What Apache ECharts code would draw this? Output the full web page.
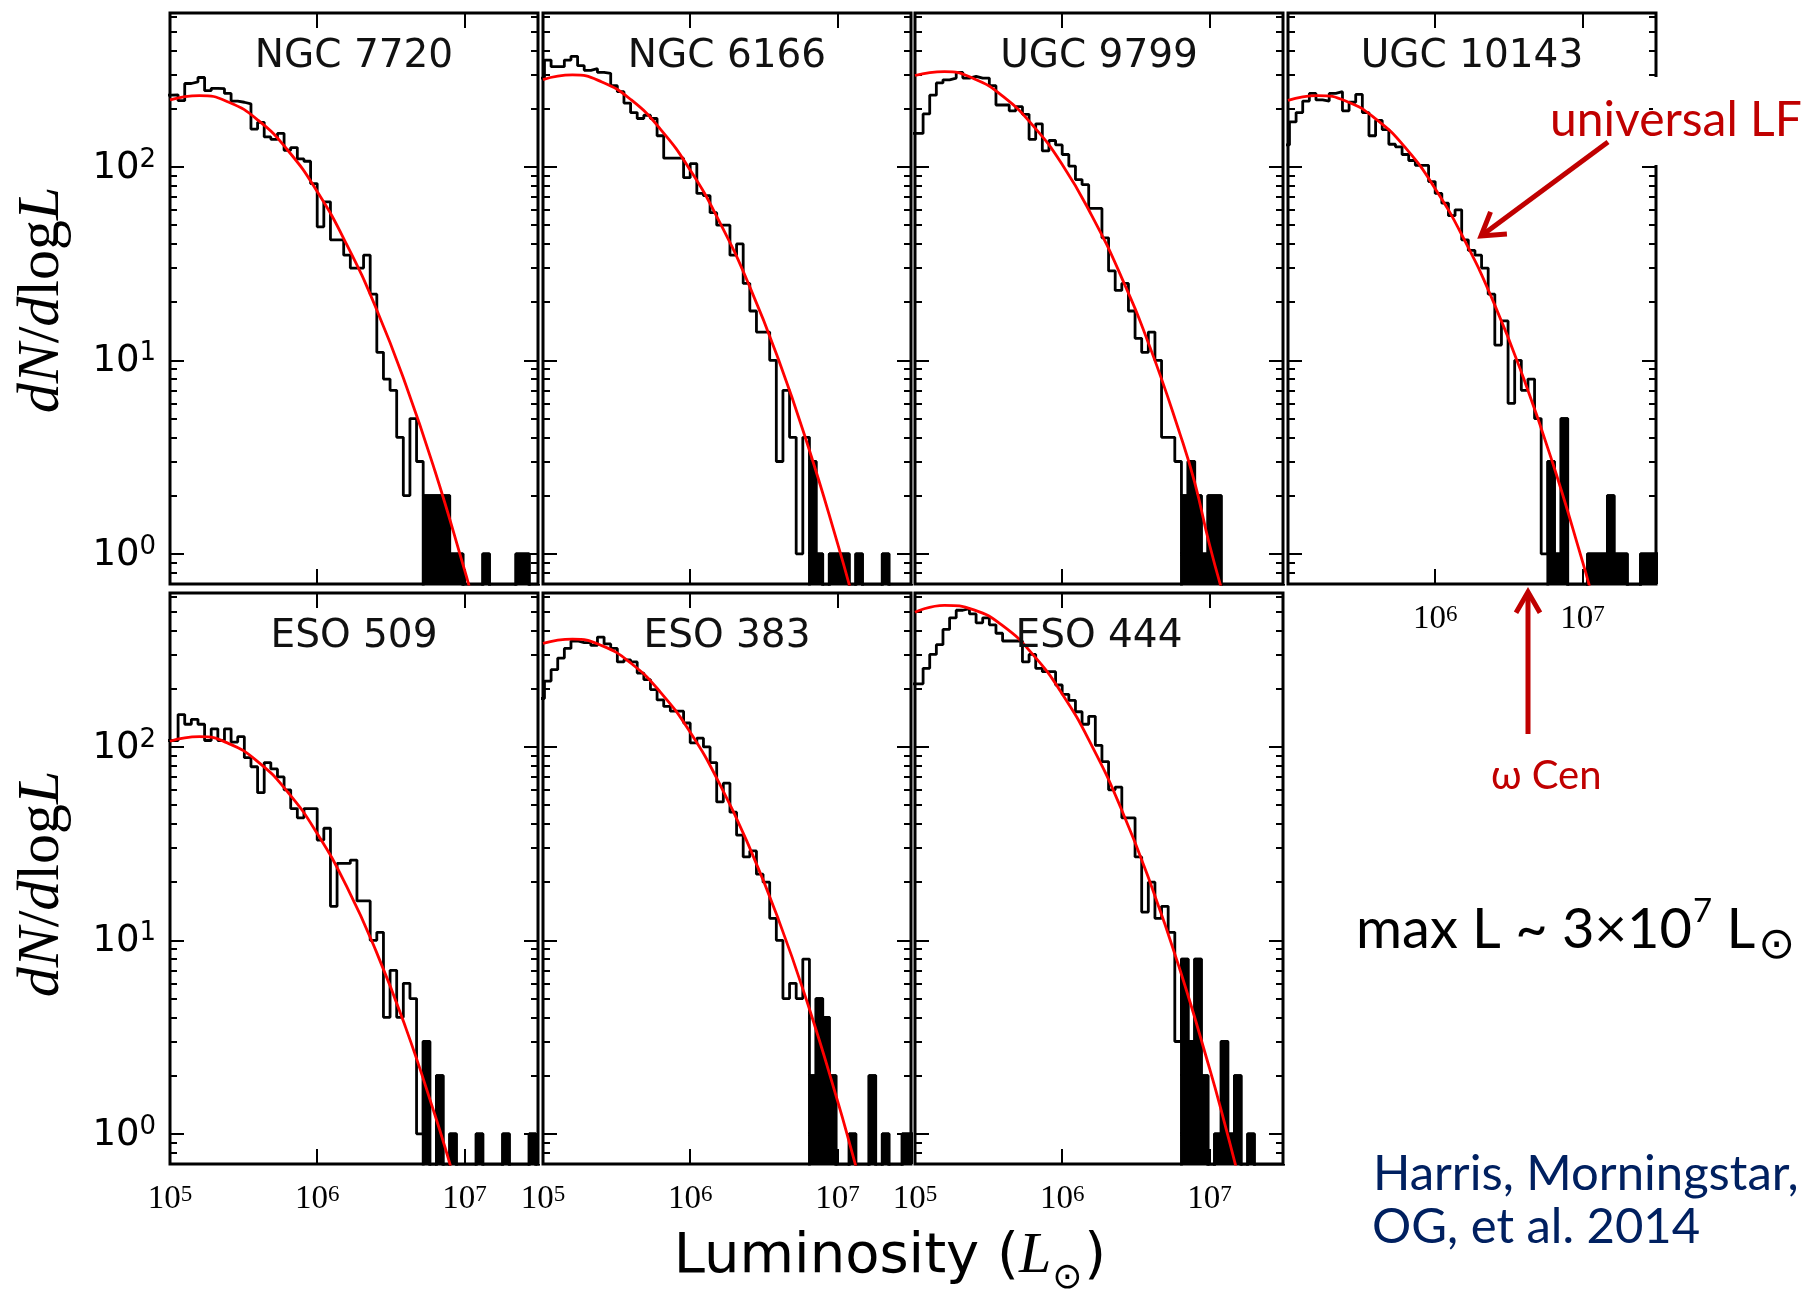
<!DOCTYPE html>
<html><head><meta charset="utf-8">
<script src="https://cdn.jsdelivr.net/npm/echarts@6/dist/echarts.min.js"></script>
<style>html,body{margin:0;padding:0;background:#fff}#c{width:1806px;height:1290px}</style>
</head><body><div id="c"></div>
<script>
// ---------------- DATA ----------------
const binStart = 4.965;   // log10 L of first histogram bin edge
const binWidth = 0.045;   // bin width in dex
const panelNames = ['NGC 7720', 'NGC 6166', 'UGC 9799', 'UGC 10143', 'ESO 509', 'ESO 383', 'ESO 444'];

// histogram values dN/dlogL per bin (0 = empty bin)
const counts_NGC7720 = [235,236,220,270,275,290,248,255,254,240, 219,216,212,157,170,143,139,149,122,126, 110,107,82,49,66,42,42,35,30,30, 35,22,11,8,7,4,2,5,3,2, 2,2,2,1,1,0,0,0,1,0, 0,0,0,1,1,0,0];
const counts_NGC6166 = [288,357,330,330,357,373,334,316,322,308, 305,263,245,214,191,178,185,178,145,111, 111,111,88,104,73,71,58,50,50,35, 40,25,18,14,14,10,3,7,4,1, 4,3,1,0,1,1,1,0,1,0, 0,0,1,0,0,0,0];
const counts_UGC9799 = [149,149,188,235,272,282,288,308,288,294, 288,288,263,209,209,195,205,187,139,167, 121,137,130,116,101,86,81,61,61,43, 29,23,25,18,13,11,14,10,4,4, 3,2,3,2,1,2,2,0,0,0, 0,0,0,0,0,0,0];
const counts_UGC10143 = [130,171,191,219,240,222,219,240,245,195, 216,237,191,145,174,156,131,127,116,108, 102,102,84,73,65,56,60,42,37,35, 30,22,12,16,6,10,7,8,5,1, 3,1,5,0,0,0,1,1,1,2, 1,1,0,0,1,1,1];
const counts_ESO509 = [108,108,147,131,139,131,108,124,108,124, 106,113,88,79,58,83,77,70,60,48, 43,48,48,33,38,15,25,25,26,16, 16,10,11,4,7,4,6,5,1,3, 0,2,0,1,0,0,0,1,0,0, 0,1,0,0,0,1,0];
const counts_ESO383 = [178,219,251,288,323,353,346,346,335,370, 341,323,275,282,275,241,223,198,175,162, 153,153,133,105,111,100,83,52,65,46, 35,27,29,22,20,13,10,5,6,5, 8,2,5,4,2,0,0,1,0,0, 2,0,1,0,0,1,1];
const counts_ESO444 = [212,212,255,301,338,405,465,509,519,487, 438,465,428,387,353,353,353,275,301,255, 245,245,209,187,174,152,131,144,102,84, 60,62,43,43,27,14,20,13,15,11, 3,8,3,8,2,0,1,3,1,2, 0,1,0,0,0,0,0];

// first bin of the sparse bright tail (drawn solid)
const tailFrom = [39, 41, 41, 40, 39, 41, 41];

// universal LF curve (log10 L, dN/dlogL)
const curveLogL_NGC7720 = [5.0, 5.2, 5.4, 5.6, 5.8, 6.0, 6.2, 6.4, 6.6, 6.8, 7.0, 7.05];
const curveN_NGC7720    = [222, 234, 216, 174, 122, 74.6, 39.8, 18.6, 7.55, 2.68, 0.83, 0.605];
const curveLogL_NGC6166 = [5.0, 5.2, 5.4, 5.6, 5.8, 6.0, 6.2, 6.4, 6.6, 6.8, 7.0, 7.1];
const curveN_NGC6166    = [283, 299, 275, 222, 156, 96.4, 51.9, 24.5, 10.1, 3.62, 1.14, 0.61];
const curveLogL_UGC9799 = [5.0, 5.2, 5.4, 5.6, 5.8, 6.0, 6.2, 6.4, 6.6, 6.8, 6.9, 7.0, 7.09];
const curveN_UGC9799    = [297, 311, 286, 231, 164, 103, 56.2, 27.2, 11.5, 4.17, 2.34, 1.12, 0.63];
const curveLogL_UGC10143 = [5.0, 5.2, 5.4, 5.6, 5.8, 6.0, 6.2, 6.4, 6.6, 6.8, 7.0, 7.05];
const curveN_UGC10143    = [221, 234, 218, 176, 125, 77.2, 41.7, 19.7, 8.1, 2.92, 0.917, 0.672];
const curveLogL_ESO509 = [5.0, 5.2, 5.4, 5.6, 5.8, 6.0, 6.2, 6.4, 6.6, 6.8, 6.9, 6.95];
const curveN_ESO509    = [107, 113, 104, 83.5, 58.4, 35.7, 19.0, 8.8, 3.56, 1.25, 0.706, 0.52];
const curveLogL_ESO383 = [5.0, 5.2, 5.4, 5.6, 5.8, 6.0, 6.2, 6.4, 6.6, 6.8, 7.0, 7.1, 7.15];
const curveN_ESO383    = [343, 361, 334, 270, 191, 119, 64.4, 30.6, 12.8, 4.66, 1.49, 0.80, 0.58];
const curveLogL_ESO444 = [5.0, 5.2, 5.4, 5.6, 5.8, 6.0, 6.2, 6.4, 6.6, 6.8, 7.0, 7.1, 7.2];
const curveN_ESO444    = [497, 540, 511, 421, 301, 188, 102, 48.1, 19.7, 7.05, 2.19, 1.16, 0.59];

// axes
const xRange = [5, 7.5];          // log10 L
const yRange = [0.698, 625];      // dN/dlogL
const xMajorTicks = [6, 7];       // 10^6, 10^7
const xLabelsBottom = [5, 6, 7];
const xLabelsP4 = [6, 7];
const yMajorExp = [0, 1, 2];      // 10^0, 10^1, 10^2
const yMinorMantissa = [2, 3, 4, 5, 6, 7, 8, 9];

// ---------------- BUILD ----------------
const panels = [
  {counts: counts_NGC7720, cL: curveLogL_NGC7720, cN: curveN_NGC7720},
  {counts: counts_NGC6166, cL: curveLogL_NGC6166, cN: curveN_NGC6166},
  {counts: counts_UGC9799, cL: curveLogL_UGC9799, cN: curveN_UGC9799},
  {counts: counts_UGC10143, cL: curveLogL_UGC10143, cN: curveN_UGC10143},
  {counts: counts_ESO509, cL: curveLogL_ESO509, cN: curveN_ESO509},
  {counts: counts_ESO383, cL: curveLogL_ESO383, cN: curveN_ESO383},
  {counts: counts_ESO444, cL: curveLogL_ESO444, cN: curveN_ESO444}
];

const yMin = Math.log10(yRange[0]), yMax = Math.log10(yRange[1]);
const EMPTY = yMin - 1;
const yMinorVals = [];
[-1, 0, 1, 2].forEach(e => yMinorMantissa.forEach(m => {
  const v = e + Math.log10(m);
  if (v > yMin + 0.01 && v < yMax - 0.005) yMinorVals.push(v);
}));

function histPoints(counts, from) {
  const pts = [];
  const lv = c => (c > 0 ? Math.log10(c) : EMPTY);
  pts.push([binStart + from * binWidth, EMPTY]);
  for (let k = from; k < counts.length; k++) pts.push([binStart + k * binWidth, lv(counts[k])]);
  const eEnd = binStart + counts.length * binWidth;
  pts.push([eEnd, lv(counts[counts.length - 1])]);
  pts.push([eEnd, EMPTY]);
  return pts;
}

const colLeft = [170, 543, 915, 1288], rowTop = [13, 593], PW = 368, PH = 571;
const tickStyle = {color: '#000', width: 2};
const yRich = {
  b: {fontFamily: 'DejaVu Sans', fontSize: 37, color: '#000', lineHeight: 40, verticalAlign: 'bottom'},
  s: {fontFamily: 'DejaVu Sans', fontSize: 26, color: '#000', lineHeight: 26, verticalAlign: 'top', padding: [0, 0, 22, 0]}
};
const xRich = {
  b: {fontFamily: 'Liberation Serif', fontSize: 33, color: '#000', lineHeight: 33, verticalAlign: 'bottom'},
  s: {fontFamily: 'Liberation Serif', fontSize: 23, color: '#000', lineHeight: 23, verticalAlign: 'top', padding: [0, 0, 18, 0]}
};
const supFmt = v => '{b|10}{s|' + Math.round(v) + '}';

const grid = [], xAxis = [], yAxis = [], series = [], titleEls = [];
panels.forEach((p, i) => {
  const r = i < 4 ? 0 : 1, c = i < 4 ? i : i - 4;
  grid.push({left: colLeft[c], top: rowTop[r], width: PW, height: PH, show: true,
    borderColor: '#000', borderWidth: 3, backgroundColor: 'transparent', containLabel: false, outerBoundsMode: 'none'});
  const xl = i === 3 ? xLabelsP4 : (i >= 4 ? xLabelsBottom : null);
  const baseX = {gridIndex: i, type: 'value', min: xRange[0], max: xRange[1],
    axisLine: {show: false, onZero: false}, splitLine: {show: false}};
  xAxis.push(Object.assign({}, baseX, {position: 'bottom',
    axisTick: {show: true, inside: true, length: 15, customValues: xMajorTicks, lineStyle: tickStyle},
    axisLabel: {show: !!xl, customValues: xl || xMajorTicks, margin: 19, formatter: supFmt, rich: xRich}}));
  xAxis.push(Object.assign({}, baseX, {position: 'top',
    axisTick: {show: true, inside: true, length: 15, customValues: xMajorTicks, lineStyle: tickStyle},
    axisLabel: {show: false}}));
  const baseY = {gridIndex: i, type: 'value', min: yMin, max: yMax,
    axisLine: {show: false, onZero: false}, splitLine: {show: false}};
  ['left', 'right'].forEach(side => {
    yAxis.push(Object.assign({}, baseY, {position: side,
      axisTick: {show: true, inside: true, length: 14, customValues: yMajorExp, lineStyle: tickStyle},
      axisLabel: {show: side === 'left' && c === 0, customValues: yMajorExp, margin: 14, formatter: supFmt, rich: yRich}}));
    yAxis.push(Object.assign({}, baseY, {position: side,
      axisTick: {show: true, inside: true, length: 7, customValues: yMinorVals, lineStyle: tickStyle},
      axisLabel: {show: false}}));
  });
  const xi = 2 * i, yi = 4 * i;
  series.push({type: 'line', xAxisIndex: xi, yAxisIndex: yi, step: 'end', showSymbol: false, symbol: 'none',
    clip: true, animation: false, z: 3, data: histPoints(p.counts, 0),
    lineStyle: {color: '#000', width: 2.8}});
  series.push({type: 'line', xAxisIndex: xi, yAxisIndex: yi, step: 'end', showSymbol: false, symbol: 'none',
    clip: true, animation: false, z: 3, data: histPoints(p.counts, tailFrom[i]),
    lineStyle: {color: '#000', width: 2.8}, areaStyle: {color: '#000', opacity: 1, origin: 'start'}});
  series.push({type: 'line', xAxisIndex: xi, yAxisIndex: yi, smooth: 0.5, showSymbol: false, symbol: 'none',
    clip: true, animation: false, z: 4, data: p.cL.map((x, k) => [x, Math.log10(p.cN[k])]),
    lineStyle: {color: '#ff0000', width: 2.8}});
  titleEls.push({type: 'text', z: 20, x: colLeft[c] + PW / 2, y: rowTop[r] + 44,
    style: {text: panelNames[i], fontFamily: 'DejaVu Sans', fontSize: 39, fill: '#111', align: 'center', verticalAlign: 'middle'}});
});

function arrowHead(tail, tip, len, angDeg) {
  const dx = tail[0] - tip[0], dy = tail[1] - tip[1], L = Math.hypot(dx, dy);
  const ux = dx / L, uy = dy / L, a = angDeg * Math.PI / 180, cs = Math.cos(a), sn = Math.sin(a);
  return [[tip[0] + len * (ux * cs - uy * sn), tip[1] + len * (ux * sn + uy * cs)], tip,
          [tip[0] + len * (ux * cs + uy * sn), tip[1] + len * (-ux * sn + uy * cs)]];
}

// text made of pieces (super/subscripts), measured with the canvas
const mctx = document.createElement('canvas').getContext('2d');
function textW(p) {
  mctx.font = (p.style || 'normal') + ' ' + p.size + 'px "' + p.family + '"';
  return mctx.measureText(p.t).width;
}
function pieceText(parts, x0, yc, align, fill) {
  const total = parts.reduce((s, p) => s + textW(p) + (p.gap || 0), 0);
  let x = align === 'center' ? x0 - total / 2 : x0;
  const els = [];
  parts.forEach(p => {
    x += (p.gap || 0);
    els.push({type: 'text', z: 31, x: x, y: yc + (p.dy || 0),
      style: {text: p.t, fontFamily: p.family, fontSize: p.size, fontStyle: p.style || 'normal',
        fill: fill, align: 'left', verticalAlign: 'middle'}});
    x += textW(p);
  });
  return els;
}

const RED = '#C00000', NAVY = '#002060';
const lfTail = [1608, 142], lfTip = [1481, 236];
const wTail = [1528, 734], wTip = [1528, 592];

const yTitleRich = {
  i: {fontFamily: 'Liberation Serif', fontStyle: 'italic', fontSize: 60, fill: '#000'},
  r: {fontFamily: 'Liberation Serif', fontSize: 60, fill: '#000'}
};
const yTitle = '{i|dN}{r|/}{i|d}{r|log}{i|L}';

const lumParts = [
  {t: 'Luminosity (', family: 'DejaVu Sans', size: 56},
  {t: 'L', family: 'Liberation Serif', style: 'italic', size: 58},
  {t: '⊙', family: 'DejaVu Sans', size: 36, dy: 22, gap: 1},
  {t: ')', family: 'DejaVu Sans', size: 56, gap: 2}
];
const maxParts = [
  {t: 'max L ~ 3×10', family: 'Lato', size: 56},
  {t: '7', family: 'Lato', size: 33, dy: -19, gap: 1},
  {t: ' L', family: 'Lato', size: 56},
  {t: '⊙', family: 'DejaVu Sans', size: 44, dy: 17, gap: 3}
];

const graphics = titleEls.concat([
  {type: 'text', z: 20, x: 42, y: 300, rotation: Math.PI / 2,
    style: {text: yTitle, rich: yTitleRich, align: 'center', verticalAlign: 'middle'}},
  {type: 'text', z: 20, x: 42, y: 884, rotation: Math.PI / 2,
    style: {text: yTitle, rich: yTitleRich, align: 'center', verticalAlign: 'middle'}},
  {type: 'rect', z: 30, shape: {x: 1653, y: 77, width: 153, height: 88}, style: {fill: '#fff'}},
  {type: 'text', z: 31, x: 1550, y: 121,
    style: {text: 'universal LF', fontFamily: 'Lato', fontSize: 48, fill: RED, align: 'left', verticalAlign: 'middle'}},
  {type: 'line', z: 31, shape: {x1: lfTail[0], y1: lfTail[1], x2: lfTip[0], y2: lfTip[1]}, style: {stroke: RED, lineWidth: 5}},
  {type: 'polyline', z: 31, shape: {points: arrowHead(lfTail, lfTip, 26, 32)}, style: {stroke: RED, lineWidth: 5, fill: null}},
  {type: 'line', z: 31, shape: {x1: wTail[0], y1: wTail[1], x2: wTip[0], y2: wTip[1] + 2}, style: {stroke: RED, lineWidth: 5}},
  {type: 'polyline', z: 31, shape: {points: arrowHead(wTail, wTip, 24, 30)}, style: {stroke: RED, lineWidth: 5, fill: null}},
  {type: 'text', z: 31, x: 1491, y: 776,
    style: {text: 'ω Cen', fontFamily: 'Lato', fontSize: 40, fill: RED, align: 'left', verticalAlign: 'middle'}},
  {type: 'text', z: 31, x: 1373, y: 1174,
    style: {text: 'Harris, Morningstar,', fontFamily: 'Lato', fontSize: 49, fill: NAVY, align: 'left', verticalAlign: 'middle'}},
  {type: 'text', z: 31, x: 1372, y: 1227,
    style: {text: 'OG, et al. 2014', fontFamily: 'Lato', fontSize: 49, fill: NAVY, align: 'left', verticalAlign: 'middle'}}
]).concat(pieceText(lumParts, 890, 1257, 'center', '#000'))
  .concat(pieceText(maxParts, 1356, 930, 'left', '#000'));

const chart = echarts.init(document.getElementById('c'), null, {renderer: 'canvas', width: 1806, height: 1290});
chart.setOption({
  animation: false,
  backgroundColor: '#fff',
  grid: grid, xAxis: xAxis, yAxis: yAxis, series: series,
  graphic: {elements: graphics}
});
</script></body></html>
